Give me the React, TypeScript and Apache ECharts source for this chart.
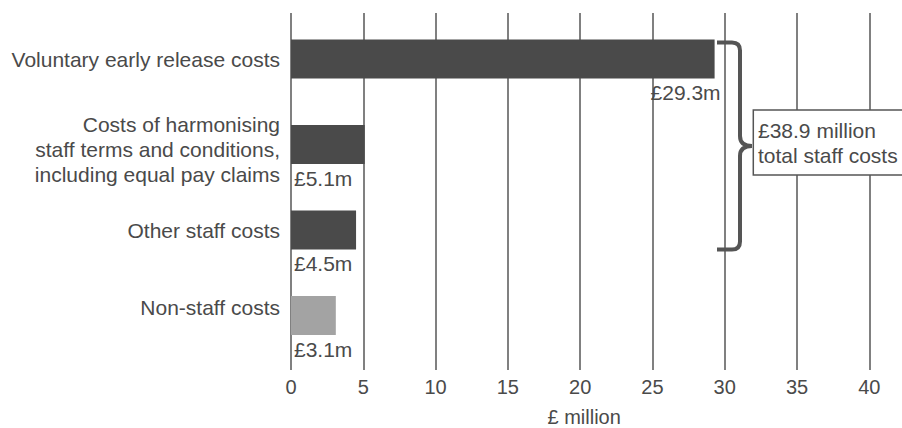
import React, { useEffect, useRef } from "react";
import * as echarts from "echarts";

const categories = [
  "Voluntary early release costs",
  "Costs of harmonising\nstaff terms and conditions,\nincluding equal pay claims",
  "Other staff costs",
  "Non-staff costs",
];
const values = [29.3, 5.1, 4.5, 3.1];
const valueLabels = ["£29.3m", "£5.1m", "£4.5m", "£3.1m"];
const isStaff = [true, true, true, false];
const xTicks = [0, 5, 10, 15, 20, 25, 30, 35, 40];
const axisName = "£ million";
const totalLines = ["£38.9 million", "total staff costs"];

// vertical nudges of the category labels relative to their bars (layout, px)
const labelNudge = [0, 5, 0, -8.5];

const FONT = "'Liberation Sans', Arial, sans-serif";
const TEXT = "#4a4a4a";

const BRACE_D =
  "M717,42.5 L732,42.5 Q740,42.5 740,50.5 L740,136 Q740,146 752,146 Q740,146 740,156 L740,241.5 Q740,249.5 732,249.5 L717,249.5";

let registered = false;

export default function App() {
  const ref = useRef<HTMLDivElement>(null);
  useEffect(() => {
    if (!ref.current) return;
    if (!registered) {
      echarts.graphic.registerShape("brace", echarts.graphic.extendPath(BRACE_D, {}));
      registered = true;
    }
    const chart = echarts.init(ref.current, null, { renderer: "svg" });
    chart.setOption({
      animation: false,
      textStyle: { fontFamily: FONT },
      grid: [
        { left: 291, right: 32.7, top: 13, bottom: 58, outerBoundsMode: "none", containLabel: false },
        { left: 291, right: 32.7, top: 16.25, bottom: 69.75, outerBoundsMode: "none", containLabel: false },
      ],
      xAxis: [
        {
          gridIndex: 0,
          type: "value",
          min: xTicks[0],
          max: xTicks[xTicks.length - 1],
          interval: 5,
          axisLine: { show: false },
          axisTick: { show: false },
          splitLine: { show: true, lineStyle: { color: "#808080", width: 2 } },
          axisLabel: {
            color: TEXT,
            fontSize: 20,
            margin: 7,
            fontFamily: FONT,
          },
          name: axisName,
          nameLocation: "middle",
          nameGap: 39,
          nameTextStyle: {
            color: TEXT,
            fontSize: 20,
            lineHeight: 16,
            fontFamily: FONT,
            padding: [0, 0, 0, 8],
          },
        },
        {
          gridIndex: 1,
          type: "value",
          min: xTicks[0],
          max: xTicks[xTicks.length - 1],
          show: false,
          splitLine: { show: false },
        },
      ],
      yAxis: [
        {
          gridIndex: 0,
          type: "category",
          data: categories,
          show: false,
        },
        {
          gridIndex: 1,
          type: "category",
          inverse: true,
          data: categories,
          axisLine: { show: false },
          axisTick: { show: false },
          splitLine: { show: false },
          axisLabel: { show: false },
        },
      ],
      series: [
        {
          type: "bar",
          xAxisIndex: 1,
          yAxisIndex: 1,
          barWidth: 39,
          data: values.map((v, i) => ({
            value: v,
            itemStyle: { color: isStaff[i] ? "#4a4a4a" : "#a3a3a3" },
            label:
              i === 0
                ? {
                    show: true,
                    position: ["100%", "100%"],
                    align: "right",
                    verticalAlign: "middle",
                    offset: [6, 14],
                    formatter: valueLabels[i],
                  }
                : {
                    show: true,
                    position: [0, "100%"],
                    align: "left",
                    verticalAlign: "middle",
                    offset: [3, 14],
                    formatter: valueLabels[i],
                  },
          })),
          label: { color: TEXT, fontSize: 21, fontFamily: FONT },
        },
      ],
    });

    const x0 = chart.convertToPixel({ xAxisIndex: 1 }, 0) as number;
    const catTexts = categories.map((c, i) => {
      const y = chart.convertToPixel({ yAxisIndex: 1 }, i) as number;
      return {
        type: "text",
        z: 50,
        x: x0 - 11,
        y: y + labelNudge[i],
        style: {
          text: c,
          fill: TEXT,
          font: `21px ${FONT}`,
          lineHeight: 25,
          align: "right",
          verticalAlign: "middle",
        },
      };
    });

    chart.setOption({
      graphic: [
        ...catTexts,
        {
          type: "brace",
          z: 100,
          style: { fill: "none", stroke: "#555555", lineWidth: 4 },
        },
        {
          type: "rect",
          z: 100,
          shape: { x: 753.3, y: 110, width: 170, height: 65 },
          style: { fill: "#ffffff", stroke: "#555555", lineWidth: 1.5 },
        },
        {
          type: "text",
          z: 101,
          x: 758,
          y: 143,
          style: {
            text: totalLines.join("\n"),
            fill: TEXT,
            font: `21px ${FONT}`,
            lineHeight: 25,
            verticalAlign: "middle",
            align: "left",
          },
        },
      ],
    });
    return () => chart.dispose();
  }, []);
  return (
    <div
      ref={ref}
      style={{ position: "fixed", left: 0, top: 0, width: 902, height: 428, background: "#fff" }}
    />
  );
}
